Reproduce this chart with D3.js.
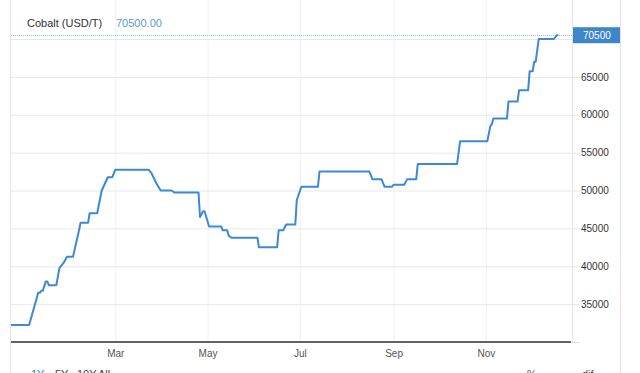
<!DOCTYPE html>
<html>
<head>
<meta charset="utf-8">
<script src="https://cdnjs.cloudflare.com/ajax/libs/d3/7.8.5/d3.min.js"></script>
<style>
body{margin:0;background:#fff;overflow:hidden;}
svg{display:block;font-family:"Liberation Sans",Arial,sans-serif;}
</style>
</head>
<body>
<script>
// price series (step points)
var dates=["2016-12-22","2017-01-03","2017-01-09","2017-01-10","2017-01-11","2017-01-12","2017-01-14","2017-01-15",
    "2017-01-16","2017-01-21","2017-01-23","2017-01-26","2017-01-28","2017-02-01","2017-02-03","2017-02-05",
    "2017-02-06","2017-02-11","2017-02-12","2017-02-17","2017-02-20","2017-02-24","2017-02-27","2017-03-01",
    "2017-03-23","2017-03-25","2017-03-28","2017-03-31","2017-04-07","2017-04-09","2017-04-25","2017-04-26",
    "2017-04-28","2017-04-29","2017-05-02","2017-05-10","2017-05-11","2017-05-14","2017-05-15","2017-05-17",
    "2017-06-03","2017-06-04","2017-06-16","2017-06-17","2017-06-20","2017-06-22","2017-06-28","2017-06-29",
    "2017-07-02","2017-07-13","2017-07-14","2017-08-16","2017-08-18","2017-08-24","2017-08-26","2017-08-31",
    "2017-09-01","2017-09-08","2017-09-10","2017-09-16","2017-09-17","2017-10-13","2017-10-15","2017-11-02",
    "2017-11-04","2017-11-05","2017-11-06","2017-11-15","2017-11-16","2017-11-22","2017-11-23","2017-11-29",
    "2017-11-30","2017-12-02","2017-12-03","2017-12-04","2017-12-06","2017-12-16","2017-12-18","2017-12-19"];
var prices=[32250,32250,36500,36500,36750,36750,38000,38000,
    37500,37500,39750,40500,41250,41250,43000,44750,
    45750,45750,47000,47000,50000,51750,51750,52750,
    52750,52250,51000,50000,50000,49750,49750,46500,
    47250,47250,45250,45250,44750,44750,44000,43750,
    43750,42500,42500,44750,44750,45500,45500,48750,
    50500,50500,52500,52500,51500,51500,50500,50500,
    50750,50750,51500,51500,53500,53500,56500,56500,
    58500,58750,59500,59500,61750,61750,63250,63250,
    65750,65750,67000,67000,70000,70000,70500,70500];

var yTicks=[30000,35000,40000,45000,50000,55000,60000,65000,70000];
var yLabels=[35000,40000,45000,50000,55000,60000,65000];
var monthTicks=["2017-03-01","2017-05-01","2017-07-01","2017-09-01","2017-11-01"];
var lastPrice=70500;
var title="Cobalt (USD/T)";
var ranges=["1Y","5Y","10Y","All"];
var tableHeads=["%","dif"];

var width=640,
    height=373,
    left=11,right=572,bottom=342,outer=620;

var parse=d3.timeParse("%Y-%m-%d");
var data=dates.map(function(d,i){return {date:parse(d),value:prices[i]};});

var x=d3.scaleTime()
    .domain([parse("2016-12-22"),parse("2017-12-28")])
    .range([left,right]);
var y=d3.scaleLinear()
    .domain([30000,70000])
    .range([bottom,39]);

var vis=d3.select("body").append("svg")
    .attr("width",width)
    .attr("height",height);

// frame lines
vis.append("line").attr("x1",left-0.5).attr("x2",left-0.5).attr("y1",0).attr("y2",height)
    .attr("stroke","#e4e4e4");
vis.append("line").attr("x1",outer+0.5).attr("x2",outer+0.5).attr("y1",0).attr("y2",height)
    .attr("stroke","#e4e4e4");

// vertical grid + month labels
var xAxis=vis.append("g")
    .attr("transform","translate(0,"+bottom+")")
    .call(d3.axisBottom(x)
        .tickValues(monthTicks.map(parse))
        .tickSize(-bottom)
        .tickPadding(8)
        .tickFormat(d3.timeFormat("%b")));
xAxis.select(".domain").remove();
xAxis.selectAll("line").attr("stroke","#edf2f2");
xAxis.selectAll("text").attr("fill","#555").attr("font-size","10px")
    .attr("font-family","Liberation Sans, Arial, sans-serif");

// horizontal grid
var grid=vis.append("g")
    .attr("transform","translate("+right+",0)")
    .call(d3.axisLeft(y).tickValues(yTicks).tickSize(right-left).tickFormat(""));
grid.select(".domain").remove();
grid.selectAll("line").attr("stroke","#e8e8e8");

// right axis ticks
var yTickMarks=vis.append("g")
    .attr("transform","translate("+right+",0)")
    .call(d3.axisRight(y).tickValues(yTicks).tickSize(8).tickFormat(""));
yTickMarks.select(".domain").remove();
yTickMarks.selectAll("line").attr("stroke","#e4e4e4");

// right axis labels (70000 sits under the price box)
var yAxis=vis.append("g")
    .attr("transform","translate("+right+",0)")
    .call(d3.axisRight(y).tickValues(yLabels).tickSize(8).tickPadding(1).tickFormat(d3.format("d")));
yAxis.select(".domain").remove();
yAxis.selectAll("line").remove();
yAxis.selectAll("text").attr("fill","#333").attr("font-size","10px")
    .attr("font-family","Liberation Sans, Arial, sans-serif");
vis.append("line").attr("x1",right+0.5).attr("x2",right+0.5).attr("y1",0).attr("y2",bottom)
    .attr("stroke","#e4e4e4");

// last price dotted line
vis.append("line")
    .attr("x1",left).attr("x2",right)
    .attr("y1",Math.round(y(lastPrice))+0.5).attr("y2",Math.round(y(lastPrice))+0.5)
    .attr("stroke","#9fc4ec")
    .attr("stroke-dasharray","1,1");

// bottom axis line
vis.append("line")
    .attr("x1",left).attr("x2",right-1)
    .attr("y1",bottom).attr("y2",bottom)
    .attr("stroke","#333")
    .attr("stroke-width",1.6);

// price line
vis.append("path")
    .datum(data)
    .attr("fill","none")
    .attr("stroke","#3d89d6")
    .attr("stroke-width",2)
    .attr("stroke-linejoin","round")
    .attr("d",d3.line().x(function(d){return x(d.date);}).y(function(d){return y(d.value);}));

// last price box
vis.append("rect")
    .attr("x",right+1).attr("y",y(lastPrice)-8)
    .attr("width",outer-right-1).attr("height",16)
    .attr("fill","#3d86cc");
vis.append("text")
    .attr("x",right+11).attr("y",y(lastPrice)+3.5)
    .attr("fill","#fff")
    .attr("font-size","10px")
    .text(d3.format("d")(lastPrice));

// title
vis.append("text")
    .attr("x",27).attr("y",27)
    .attr("fill","#333")
    .attr("font-size","11px")
    .text(title);
vis.append("text")
    .attr("x",116).attr("y",27)
    .attr("fill","#5a9ad8")
    .attr("font-size","11px")
    .text(d3.format(".2f")(lastPrice));

// range buttons (cut off at bottom, as in the source)
var rx=[31,55,77,98];
vis.selectAll(".range")
    .data(ranges)
  .enter()
    .append("text")
    .attr("class","range")
    .attr("x",function(d,i){return rx[i];})
    .attr("y",378)
    .attr("font-size","11px")
    .attr("fill",function(d,i){return i==0?"#2a8ad8":"#444";})
    .text(function(d){return d;});
vis.selectAll(".head")
    .data(tableHeads)
  .enter()
    .append("text")
    .attr("class","head")
    .attr("x",function(d,i){return i==0?527:582;})
    .attr("y",378)
    .attr("font-size","11px")
    .attr("fill","#555")
    .text(function(d){return d;});
</script>
</body>
</html>
